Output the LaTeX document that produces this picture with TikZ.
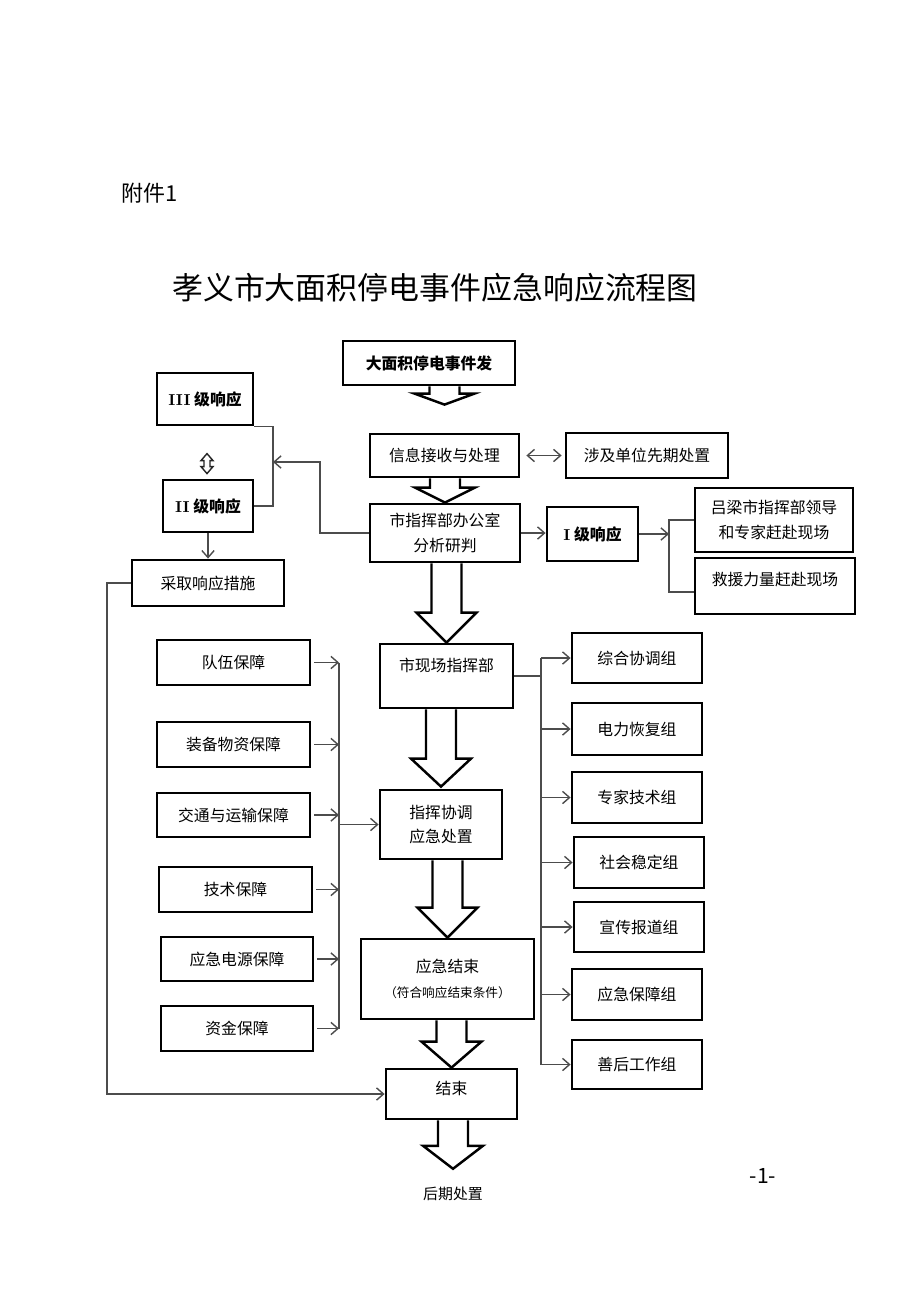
\documentclass[tikz,border=0pt]{standalone}
\usepackage{fontspec}
\newfontfamily\cjk{Noto Sans CJK SC}
\usepackage{tikz}
\usetikzlibrary{arrows.meta, positioning, calc}

% hollow block arrow: from box, to box, head length, gap before target
\newcommand{\blockarrow}[4]{%
  \draw[block] ($(#1.south -| #2.north)+(-15,0)$) -- ($(#2.north)+(-15,-#3-#4)$)
    -- ($(#2.north)+(-30,-#3-#4)$) -- ($(#2.north)+(0,-#4)$)
    -- ($(#2.north)+(30,-#3-#4)$) -- ($(#2.north)+(15,-#3-#4)$)
    -- ($(#1.south -| #2.north)+(15,0)$);
}

\begin{document}
\begin{tikzpicture}[x=0.02cm, y=-0.02cm]

\tikzstyle{field} = [rectangle, draw=black, line width=1.6pt, align=center, inner sep=0pt, font=\cjk\fontsize{9}{14}\selectfont]
\tikzstyle{heavy} = [field, font=\cjk\bfseries\fontsize{9}{14}\selectfont]
\tikzstyle{arrow} = [draw=black!70, line width=0.8pt, ->, >={Straight Barb[length=4pt,width=7pt]}]
\tikzstyle{link} = [draw=black!70, line width=0.8pt]
\tikzstyle{block} = [draw=black, line width=1.4pt, fill=white, line join=miter]
\tikzstyle{twinarrow} = [draw=black!85, line width=0.8pt, line join=miter]

\useasboundingbox (0,0) rectangle (920,1301);

% heading
\node (annex) at (150,193) [font=\cjk\fontsize{12.5}{14}\selectfont] {附件1};
\node (title) at (435,288) [font=\cjk\fontsize{17.6}{20}\selectfont] {孝义市大面积停电事件应急响应流程图};

% top chain
\node (start) at (429,363) [heavy, minimum width=3.44cm, minimum height=0.88cm] {大面积停电事件发};
\node (receive) at (444.5,455.5) [field, minimum width=2.98cm, minimum height=0.86cm] {信息接收与处理};
\node (units) at (647,455.5) [field, minimum width=3.24cm, minimum height=0.9cm] {涉及单位先期处置};
\node (office) at (445,533) [field, minimum width=3cm, minimum height=1.16cm] {市指挥部办公室\\分析研判};

% response levels
\node (lvl3) at (205,399) [heavy, minimum width=1.92cm, minimum height=1.04cm] {{\rmfamily III} 级响应};
\node (lvl2) at (208,506) [heavy, minimum width=1.8cm, minimum height=1.04cm] {{\rmfamily II} 级响应};
\node (measures) at (208,583) [field, minimum width=3.04cm, minimum height=0.92cm] {采取响应措施};
\node (lvl1) at (592.5,534) [heavy, minimum width=1.82cm, minimum height=1.08cm] {{\rmfamily I} 级响应};
\node (leaders) at (774,520) [field, minimum width=3.16cm, minimum height=1.28cm] {吕梁市指挥部领导\\和专家赶赴现场};
\node (rescue) at (775,586) [field, minimum width=3.2cm, minimum height=1.12cm, text height=8pt, text depth=9.1pt] {救援力量赶赴现场};

% middle chain
\node (onsite) at (446.5,676) [field, minimum width=2.66cm, minimum height=1.28cm, text height=8pt, text depth=13.6pt] {市现场指挥部};
\node (command) at (441,824.5) [field, minimum width=2.44cm, minimum height=1.38cm] {指挥协调\\应急处置};
\node (close) at (447.5,979) [field, minimum width=3.46cm, minimum height=1.6cm] {应急结束\\{\fontsize{7.2}{14}\selectfont （符合响应结束条件）}};
\node (finish) at (451.5,1094) [field, minimum width=2.62cm, minimum height=1cm, text height=8pt, text depth=6.9pt] {结束};
\node (after) at (453,1194) [font=\cjk\fontsize{8.5}{10}\selectfont, inner sep=0pt] {后期处置};
\node (page) at (763,1176) [font=\cjk\fontsize{12}{14}\selectfont] {-1-};

% support
\node (team) at (233.5,662.5) [field, minimum width=3.06cm, minimum height=0.9cm] {队伍保障};
\node (equip) at (233.5,744.5) [field, minimum width=3.06cm, minimum height=0.9cm] {装备物资保障};
\node (traffic) at (233.5,815) [field, minimum width=3.06cm, minimum height=0.88cm] {交通与运输保障};
\node (tech) at (235.5,889.5) [field, minimum width=3.06cm, minimum height=0.9cm] {技术保障};
\node (power) at (237,959) [field, minimum width=3.04cm, minimum height=0.88cm] {应急电源保障};
\node (fund) at (237,1028.5) [field, minimum width=3.04cm, minimum height=0.9cm] {资金保障};

% groups
\node (coord) at (637,658) [field, minimum width=2.6cm, minimum height=1cm] {综合协调组};
\node (repair) at (637,729) [field, minimum width=2.6cm, minimum height=1.04cm] {电力恢复组};
\node (expert) at (637,797.5) [field, minimum width=2.6cm, minimum height=1.02cm] {专家技术组};
\node (social) at (639,862.5) [field, minimum width=2.6cm, minimum height=1.02cm] {社会稳定组};
\node (press) at (639,927) [field, minimum width=2.6cm, minimum height=1cm] {宣传报道组};
\node (support) at (637,994.5) [field, minimum width=2.6cm, minimum height=1.02cm] {应急保障组};
\node (aftermath) at (637,1064.5) [field, minimum width=2.6cm, minimum height=0.98cm] {善后工作组};

% bars
\coordinate (lbar) at (339,0);
\coordinate (rbar) at (541,0);
\coordinate (ibar) at (669,0);
\coordinate (merge) at (273,462);
\coordinate (bend) at (320,462);
\coordinate (loop) at (107,0);

% block arrows
\blockarrow{start}{receive}{11}{28}
\blockarrow{receive}{office}{15}{0}
\blockarrow{office}{onsite}{30}{0}
\blockarrow{onsite}{command}{28}{2}
\blockarrow{command}{close}{30}{0}
\blockarrow{close}{finish}{26}{0}
\blockarrow{finish}{after}{23}{18}

% small two-way arrow between the levels
\draw[twinarrow] ($(lvl2.north)+(-1,-25)$) -- ++(-6,7) -- ++(3,0) -- ++(0,6) -- ++(-3,0)
  -- ++(6,7) -- ++(6,-7) -- ++(-3,0) -- ++(0,-6) -- ++(3,0) -- cycle;

% arrows
\draw[arrow, <->, shorten <=0.12cm, shorten >=0.06cm] (receive.east) -- (units.west);

\draw[link] (lvl3.south east) -- (lvl3.south east -| merge) |- (lvl2.east);
\draw[arrow] (office.west) -| (bend) -- (merge);
\draw[arrow] (lvl2.south) -- (measures.north);
\draw[arrow] (measures.west) -| (loop |- finish.west) -- (finish.west);

\draw[arrow] (office.east) -- (office.east -| lvl1.west);
\draw[arrow] (lvl1.east) -- (lvl1.east -| ibar);
\draw[link] (leaders.west) -| ([yshift=-0.12cm]rescue.west -| ibar) -- ([yshift=-0.12cm]rescue.west);

\foreach \s in {team, equip, traffic, tech, power, fund}
  \draw[arrow, shorten <=0.06cm] (\s.east) -- (\s.east -| lbar);
\draw[link] (team.east -| lbar) -- (fund.east -| lbar);
\draw[arrow] (lbar |- command.west) -- (command.west);

\draw[link] (onsite.east) -- (onsite.east -| rbar);
\draw[link] (rbar |- coord.west) -- (rbar |- aftermath.west);
\foreach \g in {coord, repair, expert, social, press, support, aftermath}
  \draw[arrow] (rbar |- \g.west) -- (\g.west);

\end{tikzpicture}
\end{document}
